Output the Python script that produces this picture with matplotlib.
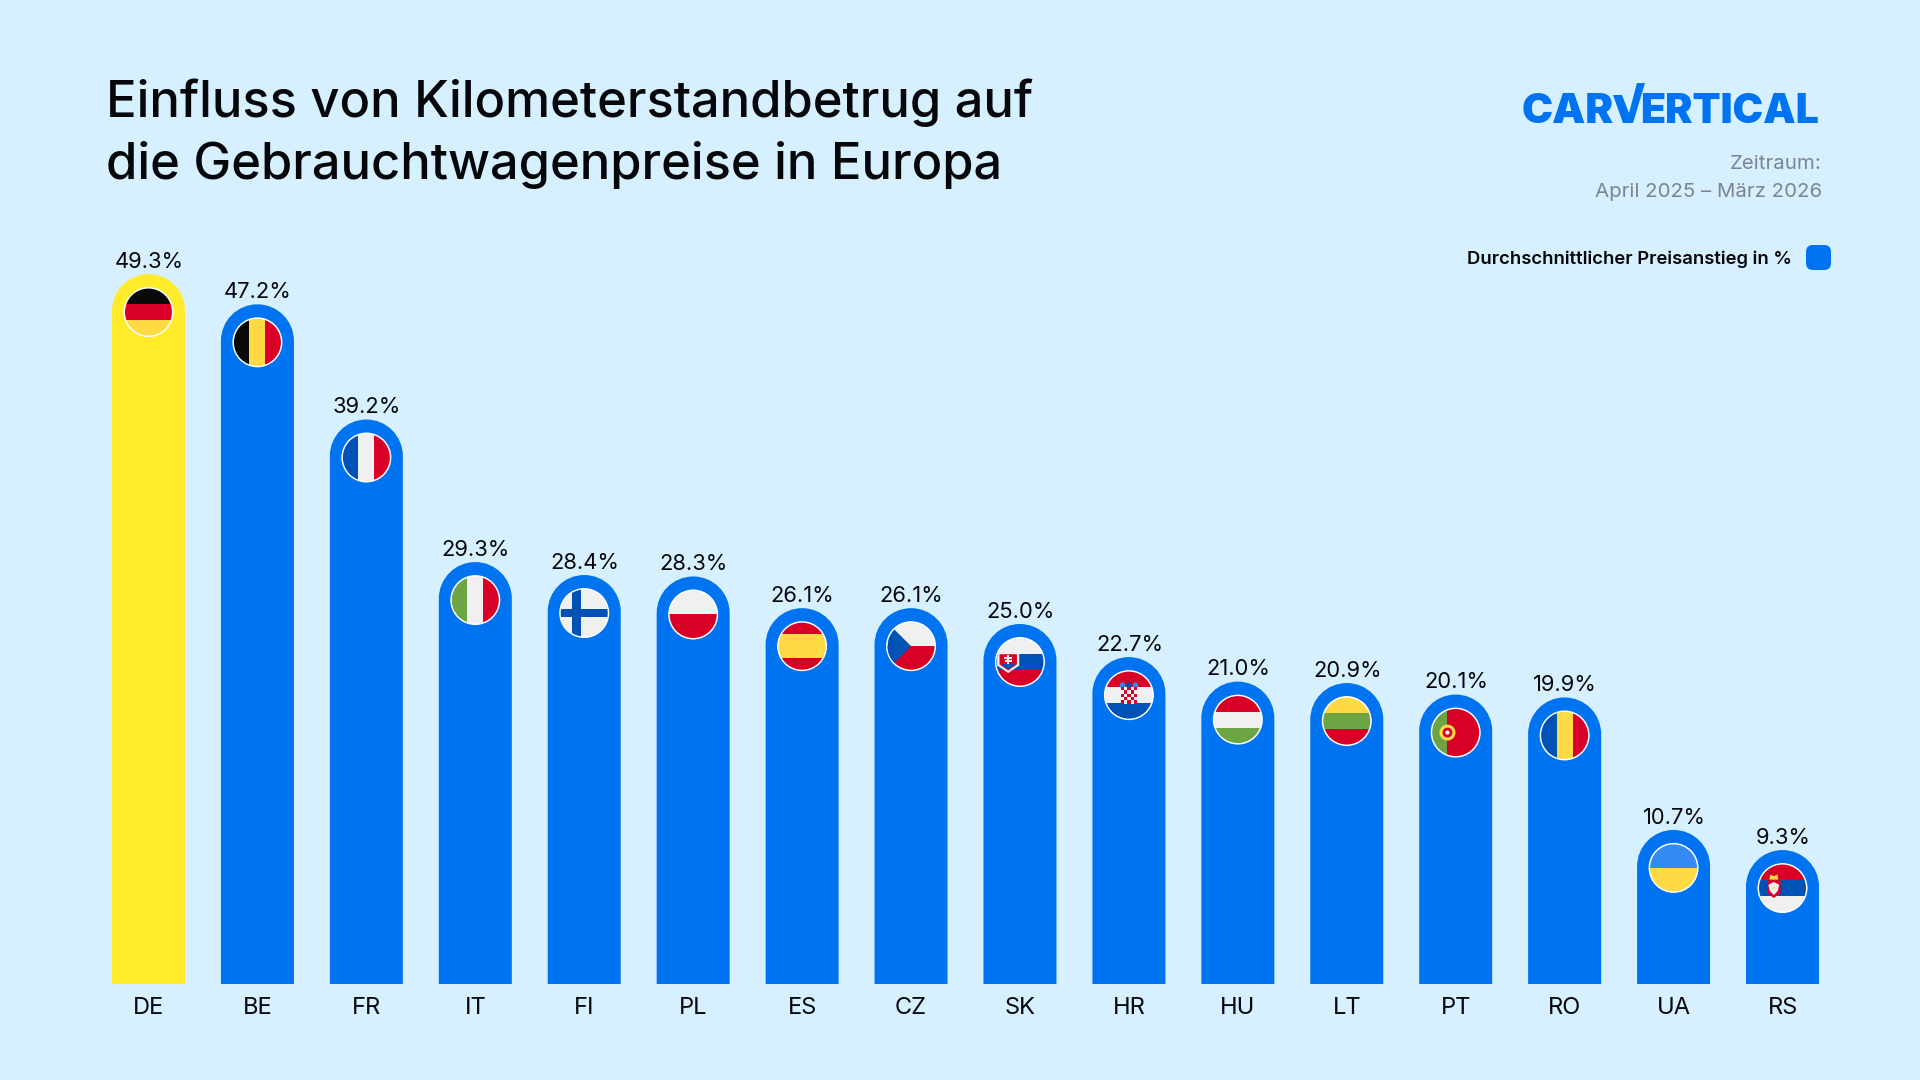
import matplotlib
matplotlib.use('Agg')
import matplotlib.pyplot as plt
from matplotlib.patches import Circle, PathPatch, Polygon, Rectangle, FancyBboxPatch
from matplotlib.path import Path
from matplotlib.transforms import Affine2D

plt.rcParams['font.family'] = ['Inter', 'DejaVu Sans']

# Daten
countries = ['DE', 'BE', 'FR', 'IT', 'FI', 'PL', 'ES', 'CZ', 'SK', 'HR', 'HU', 'LT', 'PT', 'RO', 'UA', 'RS']
values = [49.3, 47.2, 39.2, 29.3, 28.4, 28.3, 26.1, 26.1, 25.0, 22.7, 21.0, 20.9, 20.1, 19.9, 10.7, 9.3]

BG = '#D6F0FF'
BLUE = '#0073F0'
YELLOW = '#FFEB29'
DARK = '#05070A'
GRAY = '#7C858C'

F_BLACK = '#0A0A0A'
F_RED = '#D80027'
F_GOLD = '#FFDA44'
F_BLUE = '#0052B4'
F_WHITE = '#F0F0F0'
F_GREEN = '#6DA544'
F_SKY = '#338AF3'

W, H = 1920, 1080
fig = plt.figure(figsize=(19.2, 10.8), dpi=100, facecolor=BG)

# Achse: Balken 0 liegt bei x=148.5 px, Balken 15 bei 1782.5 px, Grundlinie y=984 px
px_per_cat = (1782.5 - 148.5) / 15
px_per_unit = 14.40
ymax = 50
ax_left = 148.5 - px_per_cat / 2
ax_width = px_per_cat * 16
ax_height = ymax * px_per_unit
ax = fig.add_axes([ax_left / W, (H - 984) / H, ax_width / W, ax_height / H])
ax.set_xlim(-0.5, 15.5)
ax.set_ylim(0, ymax)
ax.patch.set_visible(False)
for s in ax.spines.values():
    s.set_visible(False)
ax.set_yticks([])
ax.set_xticks(range(len(countries)))
ax.set_xticklabels(countries, fontsize=17, color=DARK)
ax.tick_params(axis='x', length=0, pad=9)

bar_px = 73
rx = bar_px / 2 / px_per_cat
ry = bar_px / 2 / px_per_unit
k = 0.5523


def rounded_bar(x, v, color):
    verts = [(x - rx, 0), (x - rx, v - ry),
             (x - rx, v - ry + k * ry), (x - k * rx, v), (x, v),
             (x + k * rx, v), (x + rx, v - ry + k * ry), (x + rx, v - ry),
             (x + rx, 0), (x - rx, 0)]
    codes = [Path.MOVETO, Path.LINETO,
             Path.CURVE4, Path.CURVE4, Path.CURVE4,
             Path.CURVE4, Path.CURVE4, Path.CURVE4,
             Path.LINETO, Path.CLOSEPOLY]
    ax.add_patch(PathPatch(Path(verts, codes), facecolor=color, edgecolor='none', zorder=2))


def hbands(cols, cuts):
    # Streifen von oben nach unten, cuts = Grenzen in Einheitskoordinaten
    out = []
    edges = [1.1] + cuts + [-1.1]
    for c, a, b in zip(cols, edges[:-1], edges[1:]):
        out.append(('rect', -1.1, b, 2.2, a - b, c))
    return out


def vbands(cols, cuts):
    out = []
    edges = [-1.1] + cuts + [1.1]
    for c, a, b in zip(cols, edges[:-1], edges[1:]):
        out.append(('rect', a, -1.1, b - a, 2.2, c))
    return out


third = 0.34
flags = {
    'DE': hbands([F_BLACK, F_RED, F_GOLD], [third, -third]),
    'BE': vbands([F_BLACK, F_GOLD, F_RED], [-third, third]),
    'FR': vbands([F_BLUE, F_WHITE, F_RED], [-third, third]),
    'IT': vbands([F_GREEN, F_WHITE, F_RED], [-third, third]),
    'FI': [('rect', -1.1, -1.1, 2.2, 2.2, F_WHITE),
           ('rect', -1.1, -0.16, 2.2, 0.32, F_BLUE),
           ('rect', -0.5, -1.1, 0.36, 2.2, F_BLUE)],
    'PL': hbands([F_WHITE, F_RED], [0.0]),
    'ES': hbands([F_RED, F_GOLD, F_RED], [0.5, -0.5]),
    'CZ': hbands([F_WHITE, F_RED], [0.0]) + [('poly', [(-1.0, 1.0), (0.0, 0.0), (-1.0, -1.0)], F_BLUE)],
    'SK': hbands([F_WHITE, F_BLUE, F_RED], [third, -third]) + [
        ('poly', [(-0.97, 0.42), (-0.03, 0.42), (-0.03, -0.15), (-0.5, -0.47), (-0.97, -0.15)], F_WHITE),
        ('poly', [(-0.87, 0.33), (-0.13, 0.33), (-0.13, -0.1), (-0.5, -0.36), (-0.87, -0.1)], F_RED),
        ('poly', [(-0.8, -0.13), (-0.5, -0.3), (-0.2, -0.13), (-0.5, -0.02)], F_BLUE),
        ('rect', -0.54, -0.1, 0.08, 0.38, F_WHITE),
        ('rect', -0.68, 0.13, 0.36, 0.07, F_WHITE),
        ('rect', -0.64, 0.0, 0.28, 0.07, F_WHITE)],
    'HR': hbands([F_RED, F_WHITE, F_BLUE], [third, -third]) + [
        ('circle', -0.28, 0.42, 0.12, F_SKY),
        ('circle', 0.0, 0.42, 0.12, F_BLUE),
        ('circle', 0.28, 0.42, 0.12, F_SKY)] + [
        ('rect', -0.35 + 0.14 * c, 0.2 - 0.14 * r, 0.14, 0.14, F_RED if (r + c) % 2 == 0 else F_WHITE)
        for r in range(5) for c in range(5)],
    'HU': hbands([F_RED, F_WHITE, F_GREEN], [third, -third]),
    'LT': hbands([F_GOLD, F_GREEN, F_RED], [third, -third]),
    'PT': vbands([F_GREEN, F_RED], [-0.35]) + [
        ('circle', -0.35, 0.0, 0.34, F_GOLD),
        ('circle', -0.35, 0.0, 0.21, F_RED),
        ('circle', -0.35, 0.0, 0.09, F_WHITE)],
    'RO': vbands([F_BLUE, F_GOLD, F_RED], [-third, third]),
    'UA': hbands([F_SKY, F_GOLD], [0.0]),
    'RS': hbands([F_RED, F_BLUE, F_WHITE], [third, -third]) + [
        ('poly', [(-0.66, 0.34), (-0.08, 0.34), (-0.08, -0.22), (-0.37, -0.42), (-0.66, -0.22)], F_RED),
        ('poly', [(-0.52, 0.58), (-0.37, 0.5), (-0.22, 0.58), (-0.18, 0.36), (-0.56, 0.36)], F_GOLD),
        ('poly', [(-0.6, 0.14), (-0.37, 0.26), (-0.14, 0.14), (-0.2, -0.12), (-0.37, -0.3), (-0.54, -0.12)], F_WHITE),
        ('circle', -0.37, 0.0, 0.05, F_GOLD)],
}


def draw_flag(code, cx, cy):
    tr = Affine2D().scale(23.5).translate(cx, cy)
    ring = Circle((cx, cy), 25, transform=None, facecolor='white', edgecolor='none', zorder=3)
    fig.add_artist(ring)
    clip = Circle((0, 0), 1, transform=tr)
    for part in flags[code]:
        if part[0] == 'rect':
            p = Rectangle((part[1], part[2]), part[3], part[4], facecolor=part[5], edgecolor='none')
        elif part[0] == 'circle':
            p = Circle((part[1], part[2]), part[3], facecolor=part[4], edgecolor='none')
        else:
            p = Polygon(part[1], closed=True, facecolor=part[2], edgecolor='none')
        p.set_transform(tr)
        p.set_zorder(4)
        fig.add_artist(p)
        p.set_clip_path(clip)


for i, (c, v) in enumerate(zip(countries, values)):
    rounded_bar(i, v, YELLOW if c == 'DE' else BLUE)
    ax.annotate(f'{v:.1f}%', (i, v), xytext=(0.4, 1.6), textcoords='offset points',
                ha='center', va='bottom', fontsize=15.8, color=DARK)
    cx, cy = ax.transData.transform((i, v))
    draw_flag(c, cx, cy - 38)


def tx(x, y, s, **kw):
    # Text in Pixelkoordinaten des Bildes (y von oben)
    return fig.text(x / W, 1 - y / H, s, **kw)


tx(106, 103, 'Einfluss von Kilometerstandbetrug auf', fontsize=36.5, fontweight='medium', color=DARK, va='center')
tx(106, 165, 'die Gebrauchtwagenpreise in Europa', fontsize=36.5, fontweight='medium', color=DARK, va='center')

tx(1822, 164, 'Zeitraum:', fontsize=14.7, color=GRAY, ha='right', va='center')
tx(1822, 192, 'April 2025 – März 2026', fontsize=14.7, color=GRAY, ha='right', va='center')

tx(1792, 259, 'Durchschnittlicher Preisanstieg in %', fontsize=13.3, fontweight='semibold', color=DARK, ha='right', va='center')
fig.add_artist(FancyBboxPatch((1812, H - 264), 13, 13, boxstyle='round,pad=6,rounding_size=7',
                              transform=None, facecolor=BLUE, edgecolor='none'))

# Logo
tx(1522, 123, 'CAR', fontsize=30, fontweight='black', color=BLUE, va='baseline')
tx(1819, 123, 'ERTICAL', fontsize=29.5, fontweight='black', color=BLUE, ha='right', va='baseline')
fig.add_artist(Polygon([(1613, H - 95), (1622, H - 95), (1629, H - 113), (1637, H - 83), (1645, H - 83), (1633, H - 123), (1623, H - 123)],
                       closed=True, transform=None, facecolor=BLUE, edgecolor='none'))

fig.savefig('out.png', dpi=100, facecolor=BG)
